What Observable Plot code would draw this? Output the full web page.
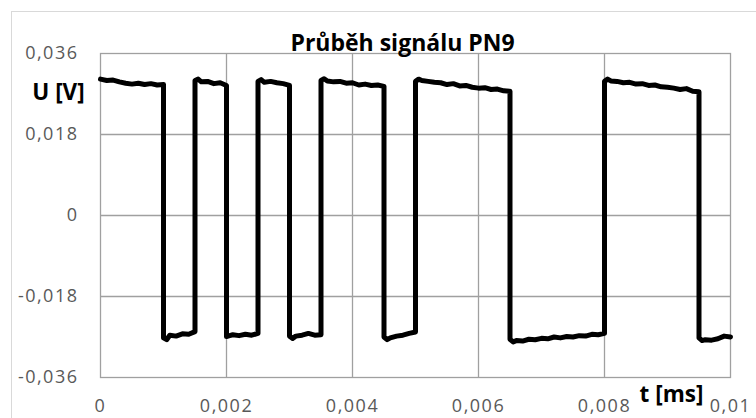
<!DOCTYPE html>
<html>
<head>
<meta charset="utf-8">
<script src="https://cdn.jsdelivr.net/npm/d3@7"></script>
<script src="https://cdn.jsdelivr.net/npm/@observablehq/plot@0.6"></script>
<style>
  html, body { margin: 0; padding: 0; background: #fff; }
  #chart { width: 756px; height: 418px; overflow: hidden; }
</style>
</head>
<body>
<div id="chart"></div>
<script>
const title = "Průběh signálu PN9";
const yLabel = "U [V]";
const xLabel = "t [ms]";
const xTicks = [0, 0.002, 0.004, 0.006, 0.008, 0.01];
const yTicks = [-0.036, -0.018, 0, 0.018, 0.036];

const tValues = [
  0, 0.0001, 0.0002, 0.0003, 0.0004, 0.0005, 0.0006, 0.0007, 0.0008, 0.0009, 0.001,
  0.001, 0.00105, 0.0011, 0.0012, 0.0013, 0.0014, 0.0015,
  0.0015, 0.00155, 0.0016, 0.0017, 0.0018, 0.0019, 0.002,
  0.002, 0.00205, 0.0021, 0.0022, 0.0023, 0.0024, 0.0025,
  0.0025, 0.00255, 0.0026, 0.0027, 0.0028, 0.0029, 0.003,
  0.003, 0.00305, 0.0031, 0.0032, 0.0033, 0.0034, 0.0035,
  0.0035, 0.00355, 0.0036, 0.0037, 0.0038, 0.0039, 0.004, 0.0041, 0.0042, 0.0043, 0.0044, 0.0045,
  0.0045, 0.00455, 0.0046, 0.0047, 0.0048, 0.0049, 0.005,
  0.005, 0.00505, 0.0051, 0.0052, 0.0053, 0.0054, 0.0055, 0.0056, 0.0057, 0.0058, 0.0059, 0.006, 0.0061, 0.0062, 0.0063, 0.0064, 0.0065,
  0.0065, 0.00655, 0.0066, 0.0067, 0.0068, 0.0069, 0.007, 0.0071, 0.0072, 0.0073, 0.0074, 0.0075, 0.0076, 0.0077, 0.0078, 0.0079, 0.008,
  0.008, 0.00805, 0.0081, 0.0082, 0.0083, 0.0084, 0.0085, 0.0086, 0.0087, 0.0088, 0.0089, 0.009, 0.0091, 0.0092, 0.0093, 0.0094, 0.0095,
  0.0095, 0.00955, 0.0096, 0.0097, 0.0098, 0.0099, 0.01
];

const uValues = [
  0.0303, 0.0300, 0.0301, 0.0297, 0.0294, 0.0292, 0.0294, 0.0291, 0.0293, 0.0290, 0.0291,
  -0.0272, -0.0276, -0.0266, -0.0268, -0.0263, -0.0264, -0.0258,
  0.0300, 0.0303, 0.0297, 0.0298, 0.0293, 0.0295, 0.0289,
  -0.0269, -0.0267, -0.0265, -0.0267, -0.0264, -0.0266, -0.0262,
  0.0298, 0.0302, 0.0296, 0.0298, 0.0295, 0.0293, 0.0289,
  -0.0268, -0.0273, -0.0268, -0.0266, -0.0262, -0.0266, -0.0265,
  0.0300, 0.0304, 0.0299, 0.0297, 0.0298, 0.0294, 0.0295, 0.0290, 0.0292, 0.0289, 0.0290, 0.0287,
  -0.0270, -0.0276, -0.0272, -0.0268, -0.0266, -0.0262, -0.0259,
  0.0298, 0.0303, 0.0300, 0.0298, 0.0296, 0.0295, 0.0291, 0.0293, 0.0288, 0.0289, 0.0285, 0.0283, 0.0284, 0.0280, 0.0281, 0.0277, 0.0276,
  -0.0275, -0.0281, -0.0278, -0.0279, -0.0275, -0.0276, -0.0273, -0.0274, -0.0270, -0.0272, -0.0269, -0.0270, -0.0267, -0.0268, -0.0264, -0.0265, -0.0262,
  0.0298, 0.0303, 0.0299, 0.0298, 0.0295, 0.0296, 0.0292, 0.0293, 0.0289, 0.0290, 0.0286, 0.0285, 0.0283, 0.0280, 0.0282, 0.0276, 0.0275,
  -0.0272, -0.0278, -0.0276, -0.0277, -0.0274, -0.0268, -0.0270
];

const data = tValues.map((t, i) => ({t, u: uValues[i]}));
const fmt = d => String(+d.toFixed(3)).replace(".", ",");
const gridColor = "#a0a0a0";
const font = "Open Sans";

const chart = Plot.plot({
  width: 756,
  height: 418,
  marginLeft: 100,
  marginRight: 26,
  marginTop: 53,
  marginBottom: 41,
  style: {fontFamily: font, fontSize: "18px", background: "#fff", overflow: "visible"},
  x: {domain: [0, 0.01], ticks: xTicks, tickFormat: fmt, tickSize: 0, tickPadding: 22, label: null},
  y: {domain: [-0.036, 0.036], ticks: yTicks, tickFormat: fmt, tickSize: 0, tickPadding: 22, label: null},
  marks: [
    Plot.gridX(xTicks.slice(1, -1), {stroke: gridColor, strokeOpacity: 1, strokeWidth: 1.3}),
    Plot.gridY(yTicks.slice(1, -1), {stroke: gridColor, strokeOpacity: 1, strokeWidth: 1.3}),
    Plot.frame({stroke: gridColor, strokeWidth: 1.3}),
    Plot.axisX(xTicks, {tickSize: 0, tickPadding: 22, tickFormat: fmt, fill: "#595959", fontSize: 18, label: null}),
    Plot.axisY(yTicks, {tickSize: 0, tickPadding: 22, tickFormat: fmt, fill: "#595959", fontSize: 18, label: null}),
    Plot.line(data, {x: "t", y: "u", stroke: "#000", strokeWidth: 5, strokeLinejoin: "round", curve: "linear"}),
    Plot.text([title], {frameAnchor: "top", textAnchor: "middle", lineAnchor: "middle", dx: -13, dy: -10, fontWeight: "bold", fontSize: 23, fill: "#000"}),
    Plot.text([yLabel], {frameAnchor: "top-left", textAnchor: "middle", lineAnchor: "middle", dx: -42, dy: 39, fontWeight: "bold", fontSize: 22.5, fill: "#000"}),
    Plot.text([xLabel], {frameAnchor: "bottom-right", textAnchor: "middle", lineAnchor: "middle", dx: -59, dy: 17, fontWeight: "bold", fontSize: 22.5, fill: "#000"})
  ]
});

const svg = d3.select(chart);
svg.selectAll("g[aria-label='x-axis tick label'] text, g[aria-label='y-axis tick label'] text")
  .style("letter-spacing", "1.5px");
svg.insert("rect", ":first-child")
  .attr("x", 11.5).attr("y", 11.5)
  .attr("width", 800).attr("height", 450)
  .attr("fill", "none").attr("stroke", "#d9d9d9").attr("stroke-width", 1);

document.getElementById("chart").appendChild(chart);
</script>
</body>
</html>
